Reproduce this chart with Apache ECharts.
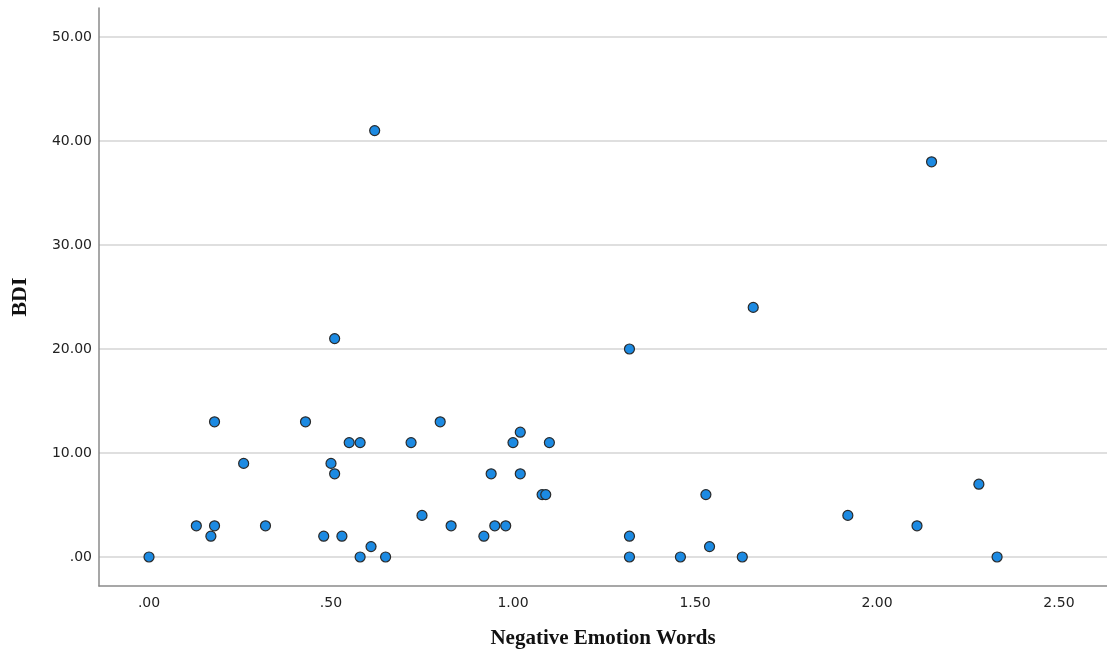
<!DOCTYPE html>
<html>
<head>
<meta charset="utf-8">
<script src="https://cdn.jsdelivr.net/npm/echarts@6/dist/echarts.min.js"></script>
<style>
html,body{margin:0;padding:0;background:#fff;}
#chart{width:1107px;height:654px;}
</style>
</head>
<body>
<div id="chart"></div>
<script>
// Negative Emotion Words (x) values
const negEmotion = [0.00,0.13,0.17,0.18,0.18,0.26,0.32,0.43,0.48,0.50,0.51,0.51,0.53,0.55,0.58,0.58,0.61,0.62,0.65,0.72,0.75,0.80,0.83,0.92,0.94,0.95,0.98,1.00,1.02,1.02,1.08,1.09,1.10,1.32,1.32,1.32,1.46,1.53,1.54,1.63,1.66,1.92,2.11,2.15,2.28,2.33];
// BDI (y) values
const bdi = [0,3,2,3,13,9,3,13,2,9,8,21,2,11,11,0,1,41,0,11,4,13,3,2,8,3,3,11,12,8,6,6,11,20,2,0,0,6,1,0,24,4,3,38,7,0];
const xTicks = [0,0.5,1.0,1.5,2.0,2.5];
const yTicks = [0,10,20,30,40,50];

function fmt(v){
  const s = v.toFixed(2);
  return s.startsWith('0') ? s.slice(1) : s;
}

const points = negEmotion.map((x,i)=>[x,bdi[i]]);

const chart = echarts.init(document.getElementById('chart'));
chart.setOption({
  animation:false,
  backgroundColor:'#fff',
  grid:{left:99,right:0,top:8,bottom:68,containLabel:false,outerBoundsMode:'none'},
  xAxis:{
    type:'value',
    min:-0.1374,
    max:2.632,
    name:'Negative Emotion Words',
    nameLocation:'middle',
    nameGap:42,
    nameTextStyle:{fontFamily:'Liberation Serif',fontWeight:'bold',fontSize:21,color:'#111'},
    axisLine:{show:true,onZero:false,lineStyle:{color:'#8a8a8a',width:1.5}},
    axisTick:{show:false,customValues:xTicks},
    axisLabel:{customValues:xTicks,formatter:fmt,color:'#222',fontSize:14,fontFamily:'DejaVu Sans',margin:10},
    splitLine:{show:false}
  },
  yAxis:{
    type:'value',
    min:-2.79,
    max:52.79,
    name:'BDI',
    nameLocation:'middle',
    nameGap:68,
    nameRotate:90,
    nameTextStyle:{fontFamily:'Liberation Serif',fontWeight:'bold',fontSize:22,color:'#111'},
    axisLine:{show:true,onZero:false,lineStyle:{color:'#8a8a8a',width:1.5}},
    axisTick:{show:false,customValues:yTicks},
    axisLabel:{customValues:yTicks,formatter:fmt,color:'#222',fontSize:14,fontFamily:'DejaVu Sans',margin:7,padding:[5,0,0,0]},
    splitLine:{show:true,lineStyle:{color:'#d4d4d4',width:1.5}}
  },
  series:[{
    type:'scatter',
    data:points,
    symbol:'circle',
    symbolSize:10,
    itemStyle:{color:'#1c8ae2',borderColor:'#2a2a2a',borderWidth:1.2,opacity:1}
  }]
});
</script>
</body>
</html>
